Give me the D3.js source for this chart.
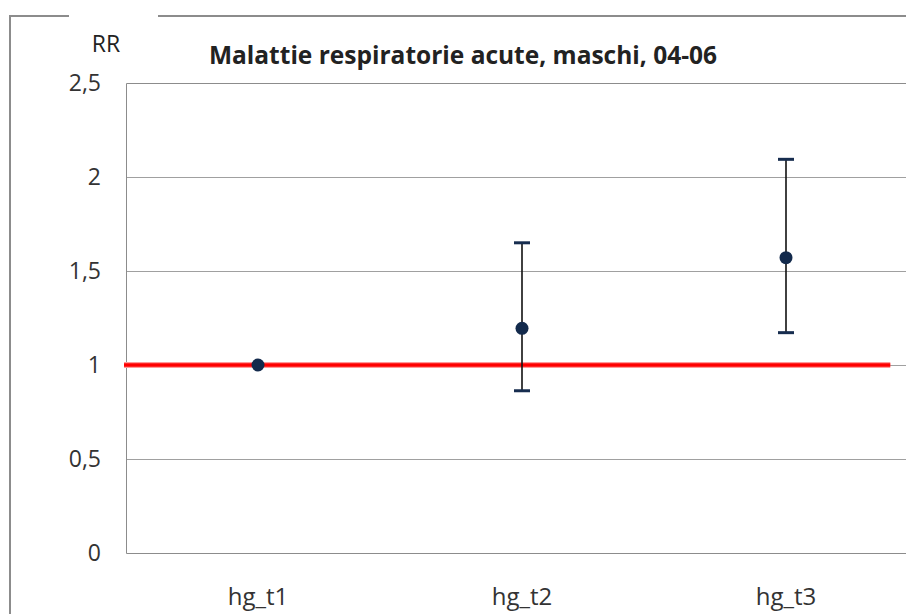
<!DOCTYPE html>
<html>
<head>
<meta charset="utf-8">
<script src="https://cdn.jsdelivr.net/npm/d3@7"></script>
<style>
  body { margin: 0; background: #fff; }
  svg { display: block; }
  text { font-family: "Open Sans", sans-serif; fill: #222; }
</style>
</head>
<body>
<div id="chart"></div>
<script>
var categories = ['hg_t1', 'hg_t2', 'hg_t3']
var rr = [1, 1.195, 1.571]
var lower = [null, 0.863, 1.172]
var upper = [null, 1.650, 2.094]
var yTicks = [0, 0.5, 1, 1.5, 2, 2.5]
var refValue = 1
var title = 'Malattie respiratorie acute, maschi, 04-06'

var width = 906, height = 614
var margin = {left: 126, top: 83, right: -12, bottom: 61}

var svg = d3.select('#chart').append('svg')
  .attr('width', width)
  .attr('height', height)

// outer frame, with a gap cut out behind the axis label
svg.append('path')
  .attr('d', 'M10,' + height + ' V16 H' + width)
  .attr('fill', 'none')
  .attr('stroke', '#8c8c8c')
  .attr('stroke-width', 2)
svg.append('rect')
  .attr('x', 69).attr('y', 12).attr('width', 89).attr('height', 8)
  .attr('fill', '#fff')

var x = d3.scaleBand()
  .domain(categories)
  .range([margin.left, width - margin.right])

var y = d3.scaleLinear()
  .domain([0, 2.5])
  .range([height - margin.bottom, margin.top])

var fmt = d => String(d).replace('.', ',')
var px = v => Math.round(v) + 0.5
var xRight = width - margin.right

// gridlines
svg.append('g').selectAll('line')
  .data(yTicks.filter(d => d > 0 && d < 2.5))
  .join('line')
  .attr('x1', margin.left).attr('x2', xRight)
  .attr('y1', d => px(y(d))).attr('y2', d => px(y(d)))
  .attr('stroke', '#a0a0a0')

// plot border (top, left, bottom)
svg.append('path')
  .attr('d', `M${xRight},${px(y(2.5))} H${margin.left + 0.5} V${px(y(0))} H${xRight}`)
  .attr('fill', 'none')
  .attr('stroke', '#8c8c8c')

// y tick labels
svg.append('g').selectAll('text')
  .data(yTicks)
  .join('text')
  .attr('x', 101)
  .attr('y', d => y(d))
  .attr('dy', '.36em')
  .attr('text-anchor', 'end')
  .style('font-size', '23px')
  .style('fill', '#333')
  .text(fmt)

// x labels
svg.append('g').selectAll('text')
  .data(categories)
  .join('text')
  .attr('x', d => x(d) + x.bandwidth()/2)
  .attr('y', 605)
  .attr('text-anchor', 'middle')
  .style('font-size', '24px')
  .style('fill', '#333')
  .text(d => d)

svg.append('text')
  .attr('x', 106).attr('y', 52)
  .attr('text-anchor', 'middle')
  .style('font-size', '23px')
  .text('RR')

svg.append('text')
  .attr('x', 463).attr('y', 64)
  .attr('text-anchor', 'middle')
  .style('font-size', '24.5px')
  .style('font-weight', 700)
  .text(title)

// reference line at RR = 1
var refG = svg.append('g')
;[[6, '#ff9a9a'], [3.5, '#ff0000']].forEach(([w, col]) => {
  refG.append('line')
    .attr('x1', margin.left - 2)
    .attr('x2', x(categories[2]) + x.bandwidth()*0.895)
    .attr('y1', y(refValue)).attr('y2', y(refValue))
    .attr('stroke', col)
    .attr('stroke-width', w)
})

var pts = categories.map((c, i) => ({c, v: rr[i], lo: lower[i], hi: upper[i]}))
var cx = d => x(d.c) + x.bandwidth()/2

var bars = svg.append('g').selectAll('g')
  .data(pts.filter(d => d.lo != null))
  .join('g')

bars.append('line')
  .attr('x1', cx).attr('x2', cx)
  .attr('y1', d => y(d.hi)).attr('y2', d => y(d.lo))
  .attr('stroke', '#111')
  .attr('stroke-width', 1.6)

bars.selectAll('rect.cap')
  .data(d => [d.hi, d.lo].map(v => ({c: d.c, v})))
  .join('rect')
  .attr('class', 'cap')
  .attr('x', d => cx(d) - 8)
  .attr('y', d => y(d.v) - 1.5)
  .attr('width', 16)
  .attr('height', 3)
  .attr('fill', '#172d4f')

svg.append('g').selectAll('circle')
  .data(pts)
  .join('circle')
  .attr('cx', cx)
  .attr('cy', d => y(d.v))
  .attr('r', 6.5)
  .attr('fill', '#132a4c')
</script>
</body>
</html>
